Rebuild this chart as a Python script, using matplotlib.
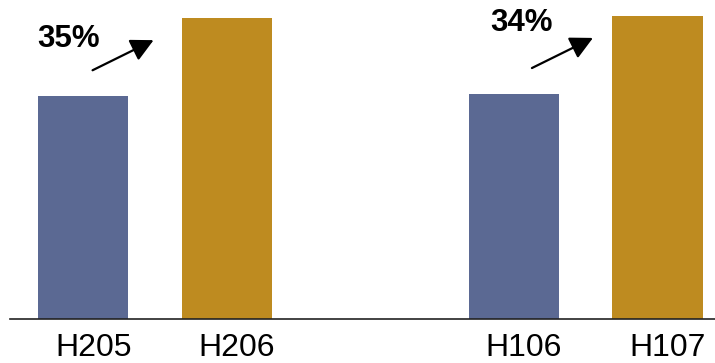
import numpy as np
import matplotlib
matplotlib.use("Agg")
import matplotlib.pyplot as plt

# Half-year comparison, values indexed to the earlier half
periods = ["H205", "H206", "H106", "H107"]
values = [100, 135, 101, 136]
growth = ["35%", "34%"]
colors = ["#5B6993", "#BE8B20", "#5B6993", "#BE8B20"]

x = np.array([0, 1, 3, 4])

plt.rcParams["font.family"] = ["Liberation Sans", "DejaVu Sans"]

fig = plt.figure(figsize=(7.15, 3.63), dpi=100)
ax = fig.add_axes([10 / 715, 44 / 363, 705 / 715, 319 / 363])

ax.bar(x, values, width=0.63, color=colors)

ax.set_xlim(-0.51, 4.4)
ax.set_ylim(0, 143)

for s in ["top", "right", "left"]:
    ax.spines[s].set_visible(False)
ax.spines["bottom"].set_color("#222222")
ax.spines["bottom"].set_linewidth(1.2)
ax.set_yticks([])
ax.set_xticks(x + 0.07)
ax.set_xticklabels(periods, fontsize=23)
ax.tick_params(axis="x", length=0, pad=10)

# growth arrows between each pair of bars
arrow_dx = [0.065, 0.125]
label_dx = [-0.104, 0.054]
label_y = [125.3, 132.5]
for i, g in enumerate(growth):
    x0 = x[2 * i] + arrow_dx[i]
    y0 = values[2 * i]
    y1 = values[2 * i + 1]
    ax.annotate("", xy=(x0 + 0.425, y1 - 10), xytext=(x0, y0 + 11.5),
                arrowprops=dict(arrowstyle="-|>,head_length=0.55,head_width=0.28",
                                mutation_scale=25, color="black", lw=1.6,
                                shrinkA=0, shrinkB=0))
    ax.text(x[2 * i] + label_dx[i], label_y[i], g, fontsize=22.5,
            fontweight="bold", ha="center", va="center")

fig.savefig("out.png", dpi=100)
